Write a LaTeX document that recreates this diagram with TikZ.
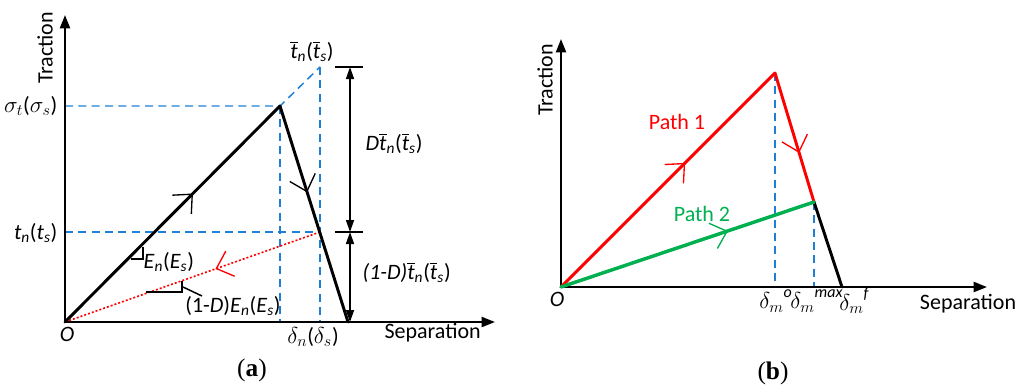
\documentclass[tikz,border=0pt]{standalone}
\usepackage{fontspec}
\setmainfont{Carlito}
\newfontfamily\capfont{Liberation Serif}
\usepackage{tikz}
\usetikzlibrary{arrows.meta, positioning, decorations.markings}
\definecolor{pathRed}{HTML}{FF0000}
\definecolor{pathGreen}{HTML}{00B050}
\definecolor{guideBlue}{HTML}{1F7FD6}
\newcommand{\ts}[2]{\textit{#1}\textsubscript{\textit{#2}}}
\newcommand{\tb}[1]{$\overline{\textit{t}}$\textsubscript{\textit{#1}}}
\newcommand{\dm}[1]{$\delta_m$\raisebox{1.1ex}{\fontsize{12}{14}\selectfont\textit{#1}}}
\tikzset{
  axis/.style   = {draw=black, line width=1.5pt, -{Triangle[length=10pt,width=7.5pt]}},
  law/.style    = {draw=black, line width=2.2pt, line cap=round},
  guide/.style  = {draw=guideBlue, line width=1.1pt, dash pattern=on 6pt off 4pt},
  unload/.style = {draw=pathRed, line width=1.2pt, dash pattern=on 1.5pt off 1.5pt},
  dim/.style    = {draw=black, line width=1.1pt,
                   {Triangle[length=9pt,width=6pt]}-{Triangle[length=9pt,width=6pt]}},
  tick/.style   = {draw=black, line width=1.1pt},
  lbl/.style    = {font=\fontsize{16.5}{19}\selectfont, inner sep=1pt},
  caption/.style= {font=\capfont\fontsize{19}{22}\selectfont, inner sep=0pt},
  flow/.style   = {postaction={decorate}, decoration={markings,
                   mark=at position #1 with {\arrow{Straight Barb[length=11pt,width=20pt,line width=1pt 0]}}}}
}

\begin{document}
\begin{tikzpicture}[x=0.75pt, y=-0.75pt]
  \useasboundingbox (0,0) rectangle (1017,386);
  % (a) damage law
  \coordinate (Oa) at (65,322);
  \coordinate (Ya) at (65,15);
  \coordinate (Xa) at (495,322);
  \coordinate (Pa) at (280,106);
  \coordinate (Ta) at (320,67);
  \coordinate (Ua) at (320,232);
  \coordinate (Fa) at (348,322);
  \coordinate (DimTop) at (350,67);
  \coordinate (DimMid) at (350,232);
  \coordinate (DimBot) at (350,322);

  \draw[guide] (Oa |- Pa) -- (Pa) -- (Ta);
  \draw[guide] (Oa |- Ua) -- (Ua);
  \draw[guide] (Pa) -- (Pa |- Oa);
  \draw[guide] (Ta) -- (Ta |- Oa);
  \draw[axis] (Oa) -- (Ya);
  \draw[axis] (Oa) -- (Xa);
  \draw[unload, flow=0.41] (Ua) -- (Oa);
  \draw[law, flow=0.595] (Oa) -- (Pa);
  \draw[law, flow=0.40] (Pa) -- (Fa);

  \draw[tick] ([xshift=-11pt]DimTop) -- ([xshift=10pt]DimTop);
  \draw[tick] ([xshift=-11pt]DimMid) -- ([xshift=10pt]DimMid);
  \draw[dim] (DimTop) -- (DimMid);
  \draw[dim] (DimMid) -- (DimBot);

  \draw[tick] (131,259) -- (143,259) -- (143,247);
  \draw[tick] (146,292) -- (182,292) -- (182,281);
  \draw[tick] (183,287) -- (202,296);

  \node[lbl, rotate=90] (tracA) at (45,48) {Traction};
  \node[lbl, anchor=east] (sigA) at (59,106) {$\sigma_t$($\sigma_s$)};
  \node[lbl, anchor=east] (tA) at (59,233) {\ts{t}{n}(\ts{t}{s})};
  \node[lbl] (tbarA) at (312,52) {\tb{n}(\tb{s})};
  \node[lbl, anchor=west] (enA) at (142,262) {\ts{E}{n}(\ts{E}{s})};
  \node[lbl] (endA) at (233,306) {(1-\textit{D})\ts{E}{n}(\ts{E}{s})};
  \node[lbl, anchor=west] (dA) at (364,144) {\textit{D}\tb{n}(\tb{s})};
  \node[lbl, anchor=west] (omdA) at (361,273) {\textit{(1-D)}\tb{n}(\tb{s})};
  \node[lbl] (oA) at (67,334) {\textit{O}};
  \node[lbl] (delA) at (313,337) {$\delta_n$($\delta_s$)};
  \node[lbl, anchor=west] (sepA) at (383,333) {Separation};
  \node[caption] (capA) at (252,370) {(\textbf{a})};

  % (b) two loading paths
  \coordinate (Ob) at (561,287);
  \coordinate (Yb) at (561,39);
  \coordinate (Xb) at (987,287);
  \coordinate (Pb) at (775,73);
  \coordinate (Mb) at (814,202);
  \coordinate (Fb) at (842,287);

  \draw[guide] (Pb) -- (Pb |- Ob);
  \draw[guide] (Mb) -- (Mb |- Ob);
  \draw[axis] (Ob) -- (Yb);
  \draw[axis] (Ob) -- (Xb);
  \draw[law] (Mb) -- (Fb);
  \draw[law, draw=pathRed, flow=0.58] (Ob) -- (Pb);
  \draw[law, draw=pathRed, flow=0.62] (Pb) -- (Mb);
  \draw[law, draw=pathGreen, line width=2.6pt, flow=0.66] (Ob) -- (Mb);

  \node[lbl, rotate=90] (tracB) at (545,80) {Traction};
  \node[lbl, text=pathRed] (path1) at (677,122) {Path 1};
  \node[lbl, text=pathGreen] (path2) at (702,214) {Path 2};
  \node[lbl] (oB) at (557,299) {\textit{O}};
  \node[lbl, anchor=west, inner sep=0pt] (del0) at (759,301) {\dm{o}};
  \node[lbl, anchor=west, inner sep=0pt] (delMax) at (790,301) {\dm{max}};
  \node[lbl, anchor=west, inner sep=0pt] (delF) at (839,301) {\dm{f}};
  \node[lbl] (sepB) at (968,304) {Separation};
  \node[caption] (capB) at (773,373) {(\textbf{b})};
\end{tikzpicture}
\end{document}
